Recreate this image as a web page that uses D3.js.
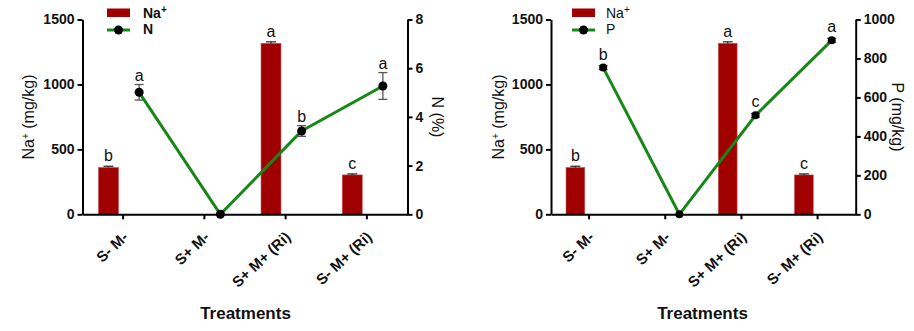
<!DOCTYPE html>
<html><head><meta charset="utf-8">
<script src="https://cdn.jsdelivr.net/npm/d3@7"></script>
<style>
body{margin:0;background:#fff;}
svg{display:block;font-family:"Liberation Sans",Arial,sans-serif;}
</style></head>
<body><svg id="c" width="914" height="331"></svg>
<script>
// ---- data ----
const categories = ["S- M-", "S+ M-", "S+ M+ (Ri)", "S- M+ (Ri)"];
const naValues = [360, 0, 1316, 303];
const naErrors = [10, 0, 12, 8];
const naLetters = ["b", "", "a", "c"];
const nValues = [5.01, 0, 3.42, 5.27];
const nErrors = [0.32, 0, 0.22, 0.55];
const nLetters = ["a", "", "b", "a"];
const pValues = [753, 0, 508, 893];
const pErrors = [10, 0, 10, 10];
const pLetters = ["b", "", "c", "a"];
const naTicks = [0, 500, 1000, 1500];
const nTicks = [0, 2, 4, 6, 8];
const pTicks = [0, 200, 400, 600, 800, 1000];

const svg = d3.select("#c");
const BAR = "#a00000", GREEN = "#178817";
const yTop = 19.5, yBot = 214.3;
const fmt = d3.format("d");

function panel(cfg) {
  const g = svg.append("g");
  const x = d3.scaleBand().domain(categories).range([cfg.x0, cfg.x1]).padding(0);
  const bw = x.bandwidth();
  const yL = d3.scaleLinear().domain([0, 1500]).range([yBot, yTop]);
  const yR = d3.scaleLinear().domain([0, cfg.rMax]).range([yBot, yTop]);
  const barW = bw * 0.245;
  const bx = c => x(c) + bw * (0.5 - 0.18);
  const px = c => x(c) + bw * (0.5 + cfg.pOff);

  // bars
  const bd = categories.map((c, i) => ({c, v: naValues[i], e: naErrors[i], l: naLetters[i]}));
  g.selectAll("rect.bar").data(bd).join("rect").attr("class", "bar")
    .attr("x", d => bx(d.c) - barW / 2).attr("width", barW)
    .attr("y", d => yL(d.v)).attr("height", d => yL(0) - yL(d.v))
    .attr("fill", BAR).attr("stroke", "#c04848").attr("stroke-width", 0.6);
  const be = bd.filter(d => d.v > 0);
  g.selectAll("line.be").data(be).join("line").attr("class", "be")
    .attr("x1", d => bx(d.c)).attr("x2", d => bx(d.c))
    .attr("y1", d => yL(d.v)).attr("y2", d => yL(d.v + d.e))
    .attr("stroke", "#222").attr("stroke-width", 1.2);
  g.selectAll("line.bc").data(be).join("line").attr("class", "bc")
    .attr("x1", d => bx(d.c) - 5).attr("x2", d => bx(d.c) + 5)
    .attr("y1", d => yL(d.v + d.e)).attr("y2", d => yL(d.v + d.e))
    .attr("stroke", "#222").attr("stroke-width", 1.2);
  g.selectAll("text.bl").data(be).join("text").attr("class", "bl")
    .attr("x", d => bx(d.c)).attr("y", d => yL(d.v + d.e) - 5)
    .attr("text-anchor", "middle").attr("font-size", 16).attr("fill", "#111")
    .text(d => d.l);

  // line series
  const pd = categories.map((c, i) => ({c, v: cfg.vals[i], e: cfg.errs[i], l: cfg.letters[i]}));
  g.append("path").datum(pd)
    .attr("d", d3.line().x(d => px(d.c)).y(d => yR(d.v)))
    .attr("fill", "none").attr("stroke", GREEN).attr("stroke-width", 3);
  const pe = pd.filter(d => d.v > 0);
  g.selectAll("line.pe").data(pe).join("line").attr("class", "pe")
    .attr("x1", d => px(d.c)).attr("x2", d => px(d.c))
    .attr("y1", d => yR(d.v - d.e)).attr("y2", d => yR(d.v + d.e))
    .attr("stroke", "#555").attr("stroke-width", 1.3);
  ["-", "+"].forEach(s => {
    g.selectAll("line.pc" + (s === "+" ? "p" : "m")).data(pe).join("line")
      .attr("class", "pc" + (s === "+" ? "p" : "m"))
      .attr("x1", d => px(d.c) - 4.5).attr("x2", d => px(d.c) + 4.5)
      .attr("y1", d => yR(s === "+" ? d.v + d.e : d.v - d.e))
      .attr("y2", d => yR(s === "+" ? d.v + d.e : d.v - d.e))
      .attr("stroke", "#555").attr("stroke-width", 1.3);
  });
  g.selectAll("circle.pt").data(pd).join("circle").attr("class", "pt")
    .attr("cx", d => px(d.c)).attr("cy", d => yR(d.v)).attr("r", cfg.r).attr("fill", "#000");
  g.selectAll("text.pl").data(pe).join("text").attr("class", "pl")
    .attr("x", d => px(d.c)).attr("y", d => Math.min(yR(d.v + d.e), yR(d.v) - cfg.r) - 4)
    .attr("text-anchor", "middle").attr("font-size", 16).attr("fill", "#111")
    .text(d => d.l);

  // axes
  const styleAxis = a => {
    a.select(".domain").attr("stroke", "#000").attr("stroke-width", 2);
    a.selectAll(".tick line").attr("stroke", "#000").attr("stroke-width", 2);
    a.selectAll(".tick text").attr("fill", "#111").attr("font-weight", "bold")
      .attr("font-family", "'Liberation Sans',Arial,sans-serif").attr("font-size", 14);
  };
  const ax = g.append("g").attr("transform", `translate(${cfg.x0},0)`)
    .call(d3.axisLeft(yL).tickValues(naTicks).tickFormat(fmt).tickSize(5).tickSizeOuter(0).tickPadding(3));
  styleAxis(ax);
  const ar = g.append("g").attr("transform", `translate(${cfg.x1},0)`)
    .call(d3.axisRight(yR).tickValues(cfg.ticks).tickFormat(fmt).tickSize(5).tickSizeOuter(0).tickPadding(3));
  styleAxis(ar);
  const xb = g.append("g").attr("transform", `translate(0,${yBot})`)
    .call(d3.axisBottom(x).tickSize(5).tickSizeOuter(0));
  styleAxis(xb);
  xb.selectAll(".tick text").attr("x", 0).attr("y", 0).attr("dy", 0).attr("font-size", 15)
    .attr("text-anchor", "end").attr("transform", "translate(6,24) rotate(-43)");

  // axis titles
  const lt = g.append("text").attr("transform", `translate(${cfg.lTitleX},117) rotate(-90)`)
    .attr("text-anchor", "middle").attr("dy", "0.35em").attr("font-size", 16).attr("fill", "#111");
  lt.append("tspan").text("Na");
  lt.append("tspan").attr("baseline-shift", "super").attr("font-size", 10).text("+");
  lt.append("tspan").text(" (mg/kg)");
  g.append("text").attr("transform", `translate(${cfg.rTitleX},117) rotate(90)`)
    .attr("text-anchor", "middle").attr("dy", "0.35em").attr("font-size", 16).attr("fill", "#111")
    .text(cfg.rTitle);
  g.append("text").attr("x", cfg.tx).attr("y", 319).attr("text-anchor", "middle")
    .attr("font-size", 17).attr("font-weight", "bold").attr("fill", "#111").text("Treatments");

  // legend
  const lg = g.append("g").attr("transform", `translate(${cfg.legX},0)`);
  lg.append("rect").attr("x", 0).attr("y", 8.5).attr("width", 23).attr("height", 8.5).attr("fill", BAR);
  lg.append("line").attr("x1", 0).attr("x2", 23).attr("y1", 30).attr("y2", 30)
    .attr("stroke", GREEN).attr("stroke-width", 3);
  lg.append("circle").attr("cx", 11.5).attr("cy", 30).attr("r", 4.5).attr("fill", "#000");
  const t1 = lg.append("text").attr("x", cfg.legTx).attr("y", 17.5).attr("font-size", 14)
    .attr("font-weight", cfg.legBold ? "bold" : "normal").attr("fill", "#111");
  t1.append("tspan").text("Na");
  t1.append("tspan").attr("baseline-shift", "super").attr("font-size", 10).text("+");
  lg.append("text").attr("x", cfg.legTx).attr("y", 34).attr("font-size", 14)
    .attr("font-weight", cfg.legBold ? "bold" : "normal").attr("fill", "#111").text(cfg.legName);
}

panel({x0: 82.5, x1: 407.5, rMax: 8, vals: nValues, errs: nErrors, letters: nLetters,
  ticks: nTicks, rTitle: "N (%)", lTitleX: 28, rTitleX: 438, tx: 245.5, pOff: 0.197, r: 4.5,
  legX: 107, legTx: 36, legBold: true, legName: "N"});
panel({x0: 551, x1: 855.7, rMax: 1000, vals: pValues, errs: pErrors, letters: pLetters,
  ticks: pTicks, rTitle: "P (mg/kg)", lTitleX: 498, rTitleX: 898, tx: 702.5, pOff: 0.185, r: 4,
  legX: 572, legTx: 34, legBold: false, legName: "P"});
</script></body></html>
